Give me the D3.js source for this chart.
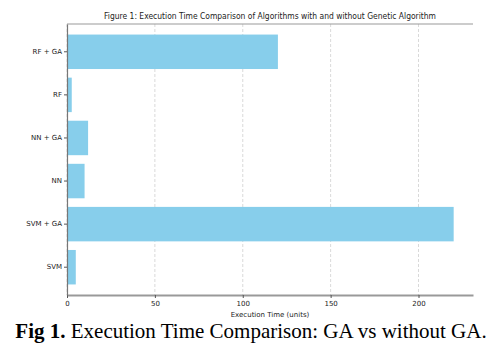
<!DOCTYPE html>
<html>
<head>
<meta charset="utf-8">
<script src="https://cdn.jsdelivr.net/npm/d3@7"></script>
<style>
  body { margin: 0; background: #fff; }
  svg text { font-family: "DejaVu Sans", sans-serif; fill: #222; }
</style>
</head>
<body>
<div id="chart"></div>
<script>
// chart data
const categories = ["SVM", "SVM + GA", "NN", "NN + GA", "RF", "RF + GA"]
const times = [5, 220, 10, 12, 2.7, 120]
const xTicks = [0, 50, 100, 150, 200]

const WIDTH = 502
const HEIGHT = 354
const PLOT = {LEFT: 67, RIGHT: 473, TOP: 24, BOTTOM: 295}

let svg = d3.select("#chart").append("svg")
    .attr("width", WIDTH)
    .attr("height", HEIGHT)

let x = d3.scaleLinear()
    .domain([0, 231])
    .range([PLOT.LEFT, PLOT.RIGHT])

// categorical axis, first category at the bottom like matplotlib barh
let y = d3.scaleBand()
    .domain(categories.slice().reverse())
    .range([PLOT.TOP, PLOT.BOTTOM])
    .paddingInner(0.2)
    .paddingOuter(0.245)

// vertical grid lines
svg.append("g")
    .selectAll("line")
    .data(xTicks)
    .enter()
    .append("line")
    .attr("x1", d => x(d))
    .attr("x2", d => x(d))
    .attr("y1", PLOT.TOP)
    .attr("y2", PLOT.BOTTOM)
    .attr("stroke", "#c8c8c8")
    .attr("stroke-width", 0.7)
    .attr("stroke-dasharray", "3,2")

// bars
svg.append("g")
    .selectAll("rect")
    .data(categories)
    .enter()
    .append("rect")
    .attr("x", x(0))
    .attr("y", d => y(d))
    .attr("width", (d, i) => x(times[i]) - x(0))
    .attr("height", y.bandwidth())
    .attr("fill", "#87ceeb")

// spines: top thin, left, bottom heavier, no right
svg.append("line")
    .attr("x1", PLOT.LEFT).attr("x2", PLOT.RIGHT)
    .attr("y1", PLOT.TOP).attr("y2", PLOT.TOP)
    .attr("stroke", "#999").attr("stroke-width", 1.2)

// x axis
let xAxis = svg.append("g")
    .attr("transform", `translate(0,${PLOT.BOTTOM})`)
    .call(d3.axisBottom(x).tickValues(xTicks).tickSize(3).tickPadding(3).tickSizeOuter(0))
xAxis.select(".domain").attr("stroke", "#999").attr("stroke-width", 2)
xAxis.selectAll(".tick line").attr("stroke", "#555")
xAxis.selectAll("text").style("font-size", "7px").attr("fill", "#222")

// y axis
let yAxis = svg.append("g")
    .attr("transform", `translate(${PLOT.LEFT},0)`)
    .call(d3.axisLeft(y).tickSize(3).tickPadding(2).tickSizeOuter(0))
yAxis.select(".domain").attr("stroke", "#777").attr("stroke-width", 1.2)
yAxis.selectAll(".tick line").attr("stroke", "#555")
yAxis.selectAll("text").style("font-size", "7px").attr("fill", "#222")

// axis label
svg.append("text")
    .attr("x", 270)
    .attr("y", 317)
    .attr("text-anchor", "middle")
    .style("font-size", "7px")
    .text("Execution Time (units)")

// title
svg.append("text")
    .attr("x", 270)
    .attr("y", 19)
    .attr("text-anchor", "middle")
    .attr("textLength", 332)
    .attr("lengthAdjust", "spacingAndGlyphs")
    .style("font-size", "9px")
    .text("Figure 1: Execution Time Comparison of Algorithms with and without Genetic Algorithm")

// caption under the figure
let caption = svg.append("text")
    .attr("x", 251)
    .attr("y", 338)
    .attr("text-anchor", "middle")
    .style("font-family", "'Liberation Serif', 'Times New Roman', serif")
    .style("font-size", "21px")
    .style("fill", "#000")
caption.append("tspan").style("font-weight", "bold").text("Fig 1.")
caption.append("tspan").text(" Execution Time Comparison: GA vs without GA.")
</script>
</body>
</html>
